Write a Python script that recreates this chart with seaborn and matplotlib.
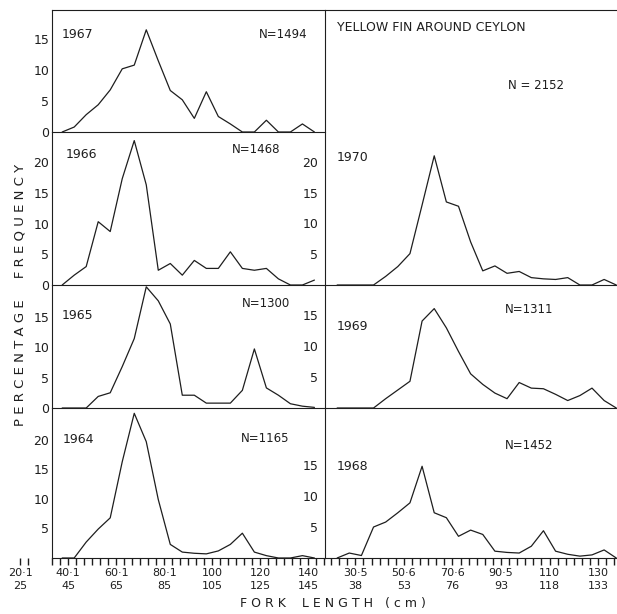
import matplotlib
matplotlib.use("Agg")
import matplotlib.pyplot as plt
import seaborn as sns

# fork length class centres (cm)
LEFT_X = [37.5, 42.5, 47.5, 52.5, 57.5, 62.5, 67.5, 72.5, 77.5, 82.5, 87.5,
          92.5, 97.5, 102.5, 107.5, 112.5, 117.5, 122.5, 127.5, 132.5, 137.5, 142.5]
RIGHT_X = [22.5, 27.5, 32.5, 37.5, 42.5, 47.5, 52.5, 57.5, 62.5, 67.5, 72.5, 77.5,
           82.5, 87.5, 92.5, 97.5, 102.5, 107.5, 112.5, 117.5, 122.5, 127.5, 132.5, 137.5]

# percentage frequency per year
Y1967 = [0, 0.8, 2.8, 4.4, 6.8, 10.2, 10.8, 16.5, 11.5, 6.7, 5.2,
         2.2, 6.5, 2.5, 1.3, 0, 0, 1.9, 0, 0, 1.3, 0]
Y1966 = [0, 1.6, 3.0, 10.3, 8.7, 17.3, 23.5, 16.3, 2.4, 3.5, 1.6,
         4.0, 2.7, 2.7, 5.4, 2.7, 2.4, 2.7, 1.0, 0, 0, 0.8]
Y1965 = [0, 0, 0, 1.9, 2.5, 6.8, 11.4, 19.9, 17.6, 13.8, 2.1,
         2.1, 0.8, 0.8, 0.8, 2.9, 9.7, 3.3, 2.1, 0.7, 0.3, 0.1]
Y1964 = [0, 0, 2.7, 4.9, 6.8, 16.3, 24.5, 19.7, 9.9, 2.3, 1.0,
         0.8, 0.7, 1.2, 2.3, 4.2, 1.0, 0.4, 0, 0, 0.4, 0]
Y1970 = [0, 0, 0, 0, 1.4, 3.0, 5.1, 13.0, 21.0, 13.5, 12.8, 7.0,
         2.3, 3.1, 1.9, 2.2, 1.2, 1.0, 0.9, 1.2, 0, 0, 0.9, 0]
Y1969 = [0, 0, 0, 0, 1.5, 2.9, 4.3, 14.0, 16.0, 12.9, 9.1, 5.5,
         3.8, 2.4, 1.5, 4.1, 3.2, 3.1, 2.2, 1.2, 2.0, 3.2, 1.2, 0]
Y1968 = [0, 0.8, 0.4, 5.0, 5.8, 7.3, 8.9, 14.8, 7.3, 6.5, 3.5, 4.5,
         3.8, 1.1, 0.9, 0.8, 1.9, 4.4, 1.1, 0.6, 0.3, 0.5, 1.3, 0]

LEFT_TICKS = [20, 40, 60, 80, 100, 120, 140]
LEFT_TICK_LABELS = ["20·1\n25", "40·1\n45", "60·1\n65", "80·1\n85",
                    "100\n105", "120\n125", "140\n145"]
RIGHT_TICKS = [30, 50, 70, 90, 110, 130]
RIGHT_TICK_LABELS = ["30·5\n38", "50·6\n53", "70·6\n76", "90·5\n93",
                     "110\n118", "130\n133"]

YEARS_LEFT = ["1967", "1966", "1965", "1964"]
N_LEFT = ["N=1494", "N=1468", "N=1300", "N=1165"]
YEARS_RIGHT = ["1970", "1969", "1968"]
N_RIGHT = ["N = 2152", "N=1311", "N=1452"]

INK = "#1e1e1e"
W, H = 617, 614

sns.set_theme(style="ticks")
plt.rcParams["font.family"] = ["DejaVu Sans"]


def px_axes(fig, x0, x1, y0, y1):
    return fig.add_axes([x0 / W, 1 - y1 / H, (x1 - x0) / W, (y1 - y0) / H])


def style_panel(ax, xs, ys, xlim, ytop, yticks, top, bottom, ticks, labels, spine_x=None):
    ax.set_facecolor("none")
    sns.lineplot(x=xs, y=ys, ax=ax, color=INK, linewidth=0.9)
    ax.set_xlim(*xlim)
    ax.set_ylim(0, ytop)
    ax.set_xlabel("")
    ax.set_ylabel("")
    for s in ax.spines.values():
        s.set_color(INK)
        s.set_linewidth(0.8)
    ax.spines["right"].set_visible(False)
    ax.spines["top"].set_visible(top)
    if spine_x is not None:
        ax.spines["left"].set_position(("data", spine_x))
        ax.spines["bottom"].set_bounds(spine_x, xlim[1])
        ax.spines["top"].set_bounds(spine_x, xlim[1])
    ax.set_yticks(yticks)
    ax.set_yticklabels([str(t) for t in yticks], fontsize=9, color=INK)
    ax.tick_params(axis="y", length=0, pad=2)
    if bottom:
        minor = [t / 3 for t in range(60, int(xlim[1] * 3) + 1, 10)]
        if spine_x is not None:
            minor = [t for t in minor if t <= 25 or t >= spine_x]
        ax.set_xticks(ticks)
        ax.set_xticklabels(labels, fontsize=8, color=INK, linespacing=1.35)
        ax.set_xticks(minor, minor=True)
        ax.tick_params(axis="x", which="major", direction="out", length=5,
                       width=1.0, color=INK, pad=2, bottom=True)
        ax.tick_params(axis="x", which="minor", direction="out", length=5,
                       width=1.0, color=INK, bottom=True)
    else:
        ax.set_xticks([])


fig = plt.figure(figsize=(W / 100, H / 100), dpi=100)

left_rows = [(10, 132), (132, 285), (285, 408), (408, 558)]
left_tops = [19.7, 24.9, 20.2, 25.4]
left_yticks = [[0, 5, 10, 15], [0, 5, 10, 15, 20], [0, 5, 10, 15], [5, 10, 15, 20]]
left_series = [Y1967, Y1966, Y1965, Y1964]
left_text = [(0.178, 0.80, 0.944, 0.80), (0.19, 0.85, 0.86, 0.885),
             (0.178, 0.756, 0.89, 0.846), (0.181, 0.787, 0.89, 0.80)]

for i, (y0, y1) in enumerate(left_rows):
    ax = px_axes(fig, 5, 325, y0, y1)
    style_panel(ax, LEFT_X, left_series[i], (13.7, 146.9), left_tops[i], left_yticks[i],
                top=(i == 0), bottom=(i == 3), ticks=LEFT_TICKS,
                labels=LEFT_TICK_LABELS, spine_x=33.3)
    yx, yy, nx, ny = left_text[i]
    ax.text(yx, yy, YEARS_LEFT[i], transform=ax.transAxes, fontsize=9,
            ha="left", va="center", color=INK)
    ax.text(nx, ny, N_LEFT[i], transform=ax.transAxes, fontsize=8.5,
            ha="right", va="center", color=INK)

right_rows = [(10, 285), (285, 408), (408, 558)]
right_tops = [44.7, 19.8, 24.2]
right_yticks = [[5, 10, 15, 20], [5, 10, 15], [5, 10, 15]]
right_series = [Y1970, Y1969, Y1968]
right_text = [(0.041, 0.465, 0.627, 0.727), (0.041, 0.659, 0.616, 0.797),
              (0.041, 0.613, 0.616, 0.753)]

for i, (y0, y1) in enumerate(right_rows):
    ax = px_axes(fig, 325, 617, y0, y1)
    style_panel(ax, RIGHT_X, right_series[i], (17.5, 137.8), right_tops[i], right_yticks[i],
                top=(i == 0), bottom=(i == 2), ticks=RIGHT_TICKS,
                labels=RIGHT_TICK_LABELS)
    ax.tick_params(axis="y", pad=5)
    yx, yy, nx, ny = right_text[i]
    ax.text(yx, yy, YEARS_RIGHT[i], transform=ax.transAxes, fontsize=9,
            ha="left", va="center", color=INK)
    ax.text(nx, ny, N_RIGHT[i], transform=ax.transAxes, fontsize=8.5,
            ha="left", va="center", color=INK)
    if i == 0:
        ax.text(0.041, 0.938, "YELLOW FIN AROUND CEYLON", transform=ax.transAxes,
                fontsize=9, ha="left", va="center", color=INK)

fig.text(20 / W, 1 - 295 / H, "P E R C E N T A G E     F R E Q U E N C Y",
         rotation=90, ha="center", va="center", fontsize=9.5, color=INK)
fig.text(333 / W, 1 - 603 / H, "F O R K    L E N G T H   ( c m )",
         ha="center", va="center", fontsize=9, color=INK)

fig.savefig("out.png", dpi=100, facecolor="white")
